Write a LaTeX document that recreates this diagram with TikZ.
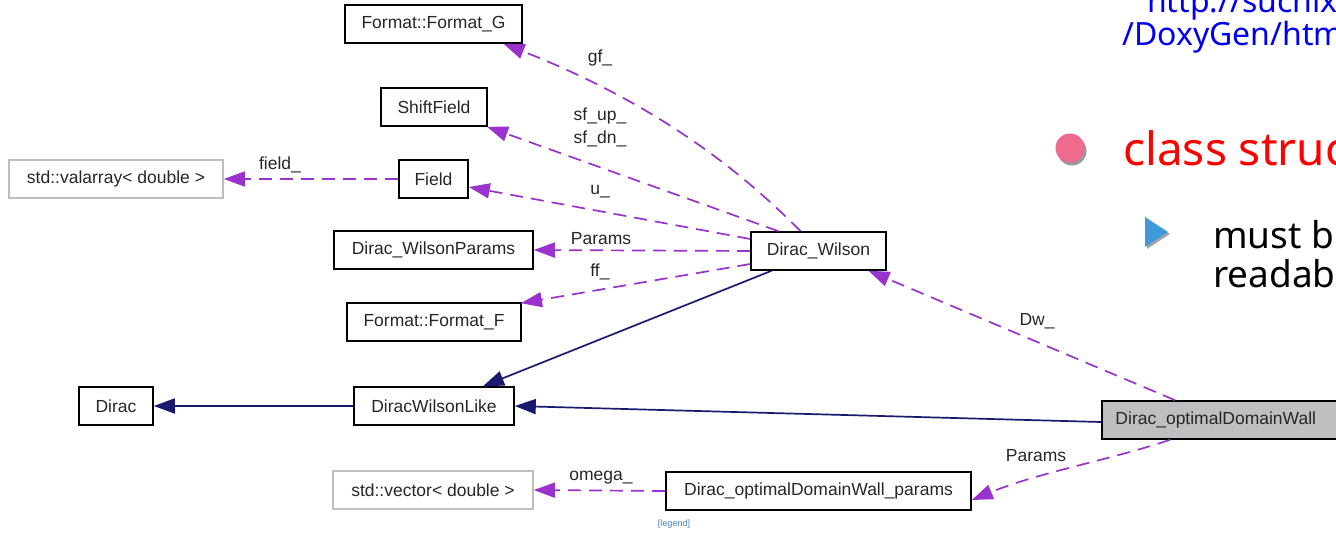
\documentclass[tikz,border=0pt]{standalone}
\usepackage{fontspec}
\setmainfont{Liberation Sans}
\newfontfamily\slidefont{Noto Sans}
\usetikzlibrary{arrows.meta}
\definecolor{relcol}{HTML}{9A32CD}
\definecolor{inhcol}{HTML}{191970}
\definecolor{boxgray}{HTML}{BFBFBF}
\definecolor{urlblue}{HTML}{0000F0}
\definecolor{bulletpink}{HTML}{F06A8E}
\definecolor{tribblue}{HTML}{3E9AD8}
\definecolor{legendblue}{HTML}{4A7FC0}
\tikzset{
  cls/.style={draw=black, line width=1.6pt, inner sep=0pt, minimum height=38pt,
    font=\fontsize{17.5}{20}\selectfont, text=black!85},
  ext/.style={cls, draw=boxgray},
  rel/.style={draw=relcol, line width=1.7pt, dash pattern=on 13pt off 8pt,
    -{Triangle[length=21pt,width=15pt]}},
  inh/.style={draw=inhcol, line width=1.7pt, -{Triangle[length=21pt,width=15pt]}},
  lbl/.style={font=\fontsize{17.5}{20}\selectfont, text=black!85, inner sep=0pt},
  slide/.style={inner sep=0pt, anchor=base west, font=\slidefont}
}
\begin{document}
\begin{tikzpicture}[x=1pt,y=-1pt]
\useasboundingbox (0,0) rectangle (1336,533);
\clip (0,0) rectangle (1336,533);

% class boxes
\node[cls, minimum width=177pt] (fg)   at (433.5,24)  {Format::Format\_G};
\node[cls, minimum width=106pt] (sf)   at (434,107)   {ShiftField};
\node[ext, minimum width=214pt] (va)   at (116,179)   {std::valarray< double >};
\node[cls, minimum width=69pt]  (fi)   at (433.5,179) {Field};
\node[cls, minimum width=199pt] (dwp)  at (433.5,250) {Dirac\_WilsonParams};
\node[cls, minimum width=135pt] (dw)   at (818.5,251) {Dirac\_Wilson};
\node[cls, minimum width=174pt] (ff)   at (434,322)   {Format::Format\_F};
\node[cls, minimum width=74pt]  (di)   at (116,406)   {Dirac};
\node[cls, minimum width=160pt] (dwl)  at (434,406)   {DiracWilsonLike};
\node[cls, minimum width=240pt, fill=boxgray, anchor=west] (odw) at (1101,420) {\hspace*{-6pt}Dirac\_optimalDomainWall\hspace*{6pt}};
\node[ext, minimum width=200pt] (sv)   at (433,490)   {std::vector< double >};
\node[cls, minimum width=305pt] (odwp) at (818.5,491) {Dirac\_optimalDomainWall\_params};
\node[font=\fontsize{9}{10}\selectfont, text=legendblue, inner sep=0pt] (leg) at (674,524) {[legend]};

% inheritance
\draw[inh] (dwl.west) -- (di.east);
\draw[inh] ([xshift=-47pt]dw.south) -- ([xshift=49pt]dwl.north);
\draw[inh] ([yshift=-2pt]odw.west) -- (dwl.east);

% usage relations
\draw[rel] ([xshift=-18pt]dw.north) .. controls (745,175) and (660,105) .. ([xshift=70pt]fg.south);
\draw[rel] ([xshift=-40pt]dw.north) -- ([xshift=53pt]sf.south);
\draw[rel] ([yshift=12pt]dw.west) -- ([yshift=-8pt]fi.east);
\draw[rel] (dw.west) -- (dwp.east);
\draw[rel] ([yshift=-13pt]dw.west) -- ([xshift=87pt,yshift=-1pt]ff.north);
\draw[rel] (fi.west) -- (va.east);
\draw[rel] ([xshift=74pt]odw.north west) -- ([xshift=50pt]dw.south);
\draw[rel] ([xshift=69pt]odw.south west) .. controls (1110,460) and (1040,472) .. ([yshift=-9pt]odwp.east);
\draw[rel] (odwp.west) -- (sv.east);

% relation labels
\node[lbl] (lgf) at (600,58) {gf\_};
\node[lbl, align=center] (lsf) at (600,127) {sf\_up\_\\[3pt]sf\_dn\_};
\node[lbl] (lu)  at (600,192) {u\_};
\node[lbl] (lpa) at (601,239) {Params};
\node[lbl] (lff) at (600,272) {ff\_};
\node[lbl] (ldw) at (1037,321) {Dw\_};
\node[lbl] (lpb) at (1036,456) {Params};
\node[lbl] (lfd) at (280,165) {field\_};
\node[lbl] (lom) at (601,478) {omega\_};

% slide text on the right
\node[slide, text=urlblue, font=\slidefont\fontsize{32}{36}\selectfont] (url1) at (1147,12) {http://suchix};
\node[slide, text=urlblue, font=\slidefont\fontsize{32}{36}\selectfont] (url2) at (1122,45) {/DoxyGen/html};
\fill[black!40] (1072,151) circle (14.5);
\fill[bulletpink] (1070,148) circle (14.5);
\node[slide, text=red, font=\slidefont\fontsize{46}{52}\selectfont] (head) at (1123,165) {class structure};
\fill[black!35] (1147,219) -- (1147,249) -- (1170,234) -- cycle;
\fill[tribblue] (1145,217) -- (1145,247) -- (1168,232) -- cycle;
\node[slide, text=black, font=\slidefont\fontsize{37}{42}\selectfont] (sub1) at (1213,248) {must be};
\node[slide, text=black, font=\slidefont\fontsize{37}{42}\selectfont] (sub2) at (1213,287) {readable};
\end{tikzpicture}
\end{document}
